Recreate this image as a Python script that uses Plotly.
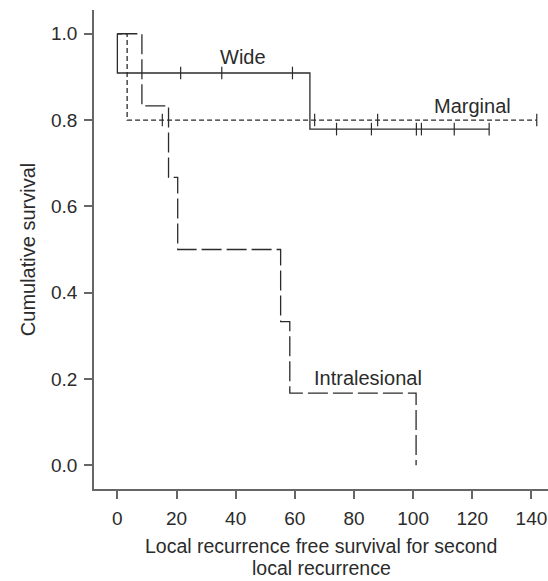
import plotly.graph_objects as go

# Kaplan-Meier step data (time, survival)
wide_t = [0, 0, 65.1, 125.7]
wide_s = [1.0, 0.909, 0.779, 0.779]
wide_cens_t = [21.4, 35.3, 59.2, 74.1, 85.9, 101.1, 102.8, 113.9, 125.7]
wide_cens_s = [0.909, 0.909, 0.909, 0.779, 0.779, 0.779, 0.779, 0.779, 0.779]

marg_t = [0, 3.3, 141.8]
marg_s = [1.0, 0.8, 0.8]
marg_cens_t = [15.2, 66.7, 88.0, 141.8]
marg_cens_s = [0.8, 0.8, 0.8, 0.8]

intra_t = [0, 8.3, 17.3, 20.4, 55.2, 58.3, 101.0]
intra_s = [1.0, 0.833, 0.667, 0.5, 0.333, 0.167, 0.0]

x_ticks = [0, 20, 40, 60, 80, 100, 120, 140]
y_ticks = [0.0, 0.2, 0.4, 0.6, 0.8, 1.0]

labels = ["Wide", "Marginal", "Intralesional"]
label_t = [42.4, 120.2, 84.6]
label_s = [0.945, 0.8315, 0.203]

x_title_lines = ["Local recurrence free survival for second", "local recurrence"]
y_title = "Cumulative survival"

LC = "#2b2b2b"
AX = "#666666"
FONT = "Liberation Sans, Arial, sans-serif"

fig = go.Figure()
fig.add_trace(go.Scatter(x=wide_t, y=wide_s, mode="lines", line_shape="hv",
                         line=dict(color=LC, width=1.3), showlegend=False))
fig.add_trace(go.Scatter(x=marg_t, y=marg_s, mode="lines", line_shape="hv",
                         line=dict(color=LC, width=1.3, dash="5px,3px"), showlegend=False))
fig.add_trace(go.Scatter(x=intra_t, y=intra_s, mode="lines", line_shape="hv",
                         line=dict(color=LC, width=1.3, dash="20px,5px"), showlegend=False))
for ct, cs in [(wide_cens_t, wide_cens_s), (marg_cens_t, marg_cens_s)]:
    fig.add_trace(go.Scatter(x=ct, y=cs, mode="markers",
                             marker=dict(symbol="line-ns", size=9,
                                         line=dict(color=LC, width=1.2)),
                             showlegend=False))

for lab, lt, ls in zip(labels, label_t, label_s):
    fig.add_annotation(x=lt, y=ls, text=lab, showarrow=False,
                       font=dict(family=FONT, size=20, color=LC),
                       xanchor="center", yanchor="middle")

for line_text, shift in zip(x_title_lines, [-57, -79]):
    fig.add_annotation(x=0.5, y=0, xref="paper", yref="paper", text=line_text,
                       showarrow=False, xanchor="center", yanchor="middle", yshift=shift,
                       borderpad=0, font=dict(family=FONT, size=19.5, color=LC))

fig.update_layout(
    width=548, height=581,
    margin=dict(l=94, r=0, t=10, b=92),
    paper_bgcolor="white", plot_bgcolor="white",
    font=dict(family=FONT, size=19, color=LC),
    xaxis=dict(range=[-7.9, 145.6], tickvals=x_ticks, showgrid=False, zeroline=False,
               showline=True, linecolor=AX, linewidth=1.5, ticks="outside",
               ticklen=8, tickwidth=1.5, tickcolor=AX, ticklabelstandoff=3,
               tickfont=dict(size=19, color=LC),
               automargin=False),
    yaxis=dict(range=[-0.055, 1.055], tickvals=y_ticks, tickformat=".1f", showgrid=False,
               zeroline=False, showline=True, linecolor=AX, linewidth=1.5,
               ticks="outside", ticklen=8, tickwidth=1.5, tickcolor=AX, ticklabelstandoff=3,
               tickfont=dict(size=19, color=LC),
               title=dict(text=y_title, font=dict(size=20, color=LC), standoff=10),
               automargin=False),
)

fig.write_html("out.html", config={"displayModeBar": False},
               post_script="document.body.style.margin='0';")
